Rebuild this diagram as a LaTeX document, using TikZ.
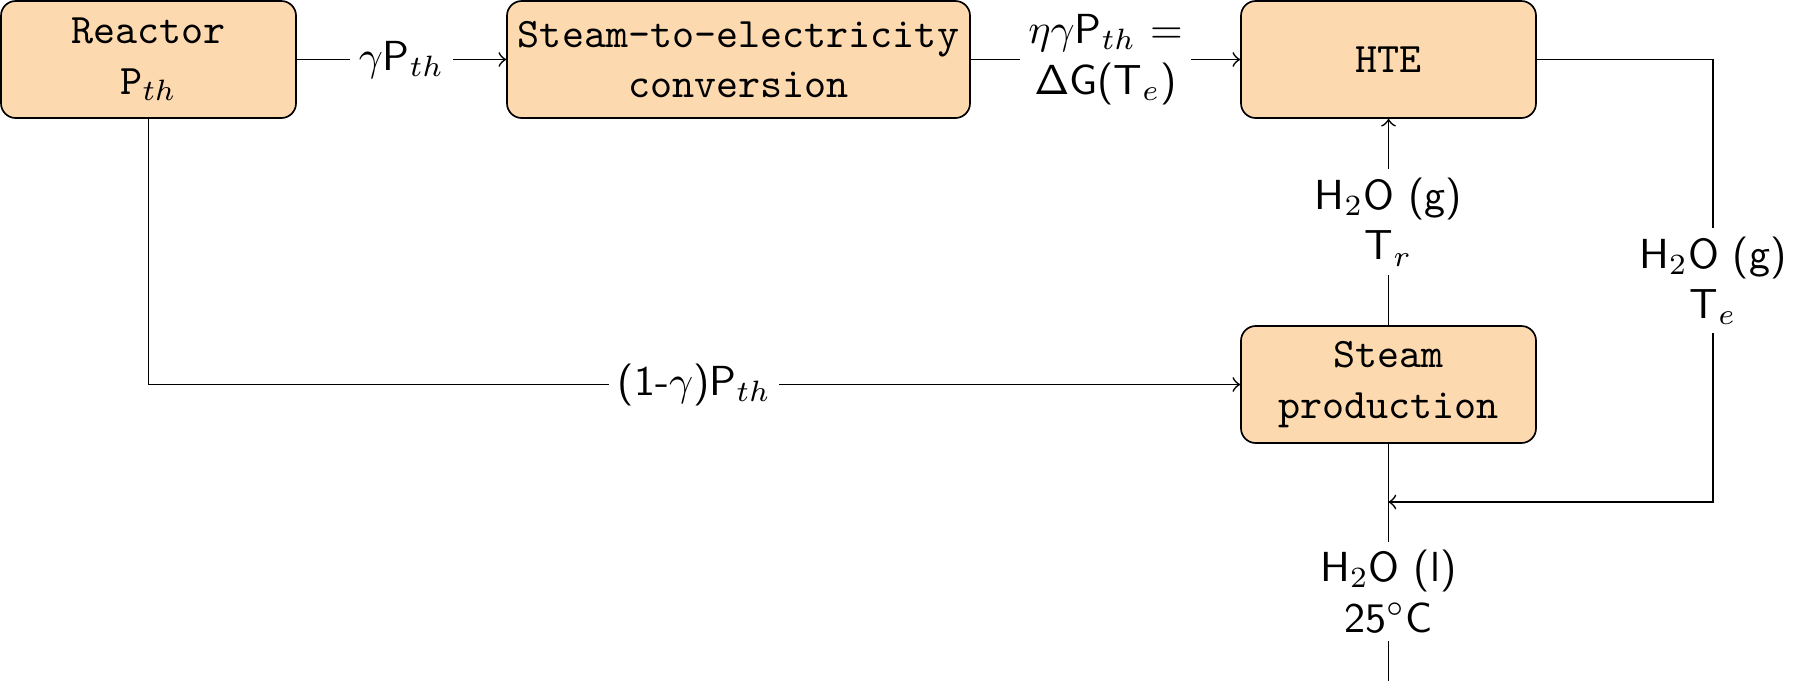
\documentclass[tikz,border=0pt]{standalone}
\usetikzlibrary{arrows}
\definecolor{boxfill}{RGB}{253,217,176}
\begin{document}
\begin{tikzpicture}[x=0.238pt,y=-0.238pt,
  blk/.style={draw, fill=boxfill, rounded corners=3.5pt, font=\ttfamily, align=center, inner sep=0pt},
  lbl/.style={fill=white, font=\sffamily, align=center, inner sep=2pt},
  >=to]
\useasboundingbox (0,0) rectangle (1800,681);
\node[blk, minimum width=295*0.238pt, minimum height=117*0.238pt] (reac) at (148.5,59.5) {Reactor\\P$_{th}$};
\node[blk, minimum width=463*0.238pt, minimum height=117*0.238pt] (ste) at (738.5,59.5) {Steam-to-electricity\\conversion};
\node[blk, minimum width=295*0.238pt, minimum height=117*0.238pt] (hte) at (1388.5,59.5) {HTE};
\node[blk, minimum width=295*0.238pt, minimum height=117*0.238pt] (sp) at (1388.5,384.5) {Steam\\production};
\coordinate (c1) at (1713,59.5);
\coordinate (c2) at (1713,502);
\coordinate (j) at (1388.5,502);
\coordinate (bot) at (1388.5,681);
\draw[->] (reac) -- node[lbl] {$\gamma$P$_{th}$} (ste);
\draw[->] (ste) -- node[lbl] {$\eta\gamma$P$_{th}$ =\\$\mathsf{\Delta}$G(T$_e$)} (hte);
\draw[->] (reac.south) |- node[lbl, pos=0.75] {(1-$\gamma$)P$_{th}$} (sp.west);
\draw[->] (sp.north) -- node[lbl] {H$_2$O (g)\\T$_r$} (hte.south);
\draw[->] (hte.east) -- (c1) -- node[lbl] {H$_2$O (g)\\T$_e$} (c2) -- (j);
\draw (bot) -- node[lbl] {H$_2$O (l)\\25$^\circ$C} (j) -- (sp.south);
\end{tikzpicture}
\end{document}
